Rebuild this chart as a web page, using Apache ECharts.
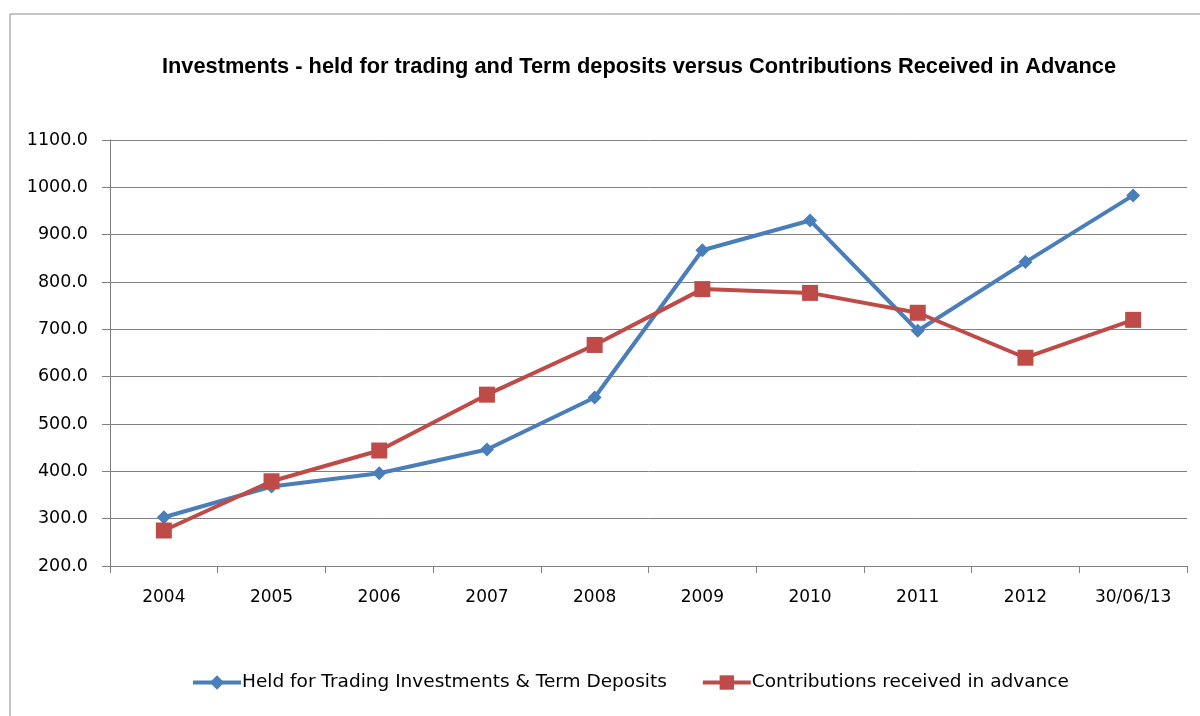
<!DOCTYPE html>
<html>
<head>
<meta charset="utf-8">
<script src="https://cdn.jsdelivr.net/npm/echarts@6/dist/echarts.min.js"></script>
<style>
  html, body { margin: 0; padding: 0; background: #fff; }
  #chart { width: 1200px; height: 716px; }
</style>
</head>
<body>
<div id="chart"></div>
<script>
const years = ['2004', '2005', '2006', '2007', '2008', '2009', '2010', '2011', '2012', '30/06/13'];
const heldForTrading = [303, 368, 396, 446, 556, 867, 930, 697, 842, 983];
const contributions = [275, 379, 444, 562, 667, 785, 777, 735, 640, 720];

const chart = echarts.init(document.getElementById('chart'));

chart.setOption({
  animation: false,
  graphic: [
    {
      type: 'rect',
      shape: { x: 10, y: 14, width: 1200, height: 720 },
      style: { fill: 'none', stroke: '#8c8c8c', lineWidth: 1 },
      silent: true,
    },
  ],
  title: {
    text: 'Investments - held for trading and Term deposits versus Contributions Received in Advance',
    left: 634,
    textAlign: 'center',
    top: 51,
    textStyle: {
      fontFamily: 'Liberation Sans Narrow, Arial Narrow, sans-serif',
      fontSize: 21.8,
      fontWeight: 'bold',
      color: '#000',
    },
  },
  grid: { left: 110, right: 13, top: 140, bottom: 150 },
  legend: {
    bottom: 19,
    left: 186,
    itemGap: 34,
    itemWidth: 48,
    itemHeight: 18,
    lineStyle: { width: 4 },
    textStyle: { fontFamily: 'DejaVu Sans, Verdana, sans-serif', fontSize: 18.5, color: '#000', padding: [0, 0, 0, -4] },
    data: ['Held for Trading Investments & Term Deposits', 'Contributions received in advance'],
  },
  xAxis: {
    type: 'category',
    data: years,
    boundaryGap: true,
    axisLine: { lineStyle: { color: '#808080', width: 1 } },
    axisTick: { show: true, alignWithLabel: false, length: 7, lineStyle: { color: '#808080' } },
    axisLabel: { fontFamily: 'DejaVu Sans, Verdana, sans-serif', fontSize: 17, color: '#000', margin: 23 },
  },
  yAxis: {
    type: 'value',
    min: 200,
    max: 1100,
    interval: 100,
    axisLine: { show: true, lineStyle: { color: '#808080', width: 1 } },
    axisTick: { show: true, inside: false, length: 8, lineStyle: { color: '#808080' } },
    axisLabel: {
      fontFamily: 'DejaVu Sans, Verdana, sans-serif',
      fontSize: 17.5,
      color: '#000',
      margin: 22,
      formatter: (v) => v.toFixed(1),
    },
    splitLine: { lineStyle: { color: '#808080', width: 1 } },
  },
  series: [
    {
      name: 'Held for Trading Investments & Term Deposits',
      type: 'line',
      data: heldForTrading,
      symbol: 'diamond',
      symbolSize: 14,
      lineStyle: { width: 4, color: '#4a7ebb' },
      itemStyle: { color: '#4a7ebb' },
      z: 2,
    },
    {
      name: 'Contributions received in advance',
      type: 'line',
      data: contributions,
      symbol: 'rect',
      symbolSize: 16,
      lineStyle: { width: 4, color: '#be4b48' },
      itemStyle: { color: '#be4b48' },
      z: 3,
    },
  ],
});
</script>
</body>
</html>
